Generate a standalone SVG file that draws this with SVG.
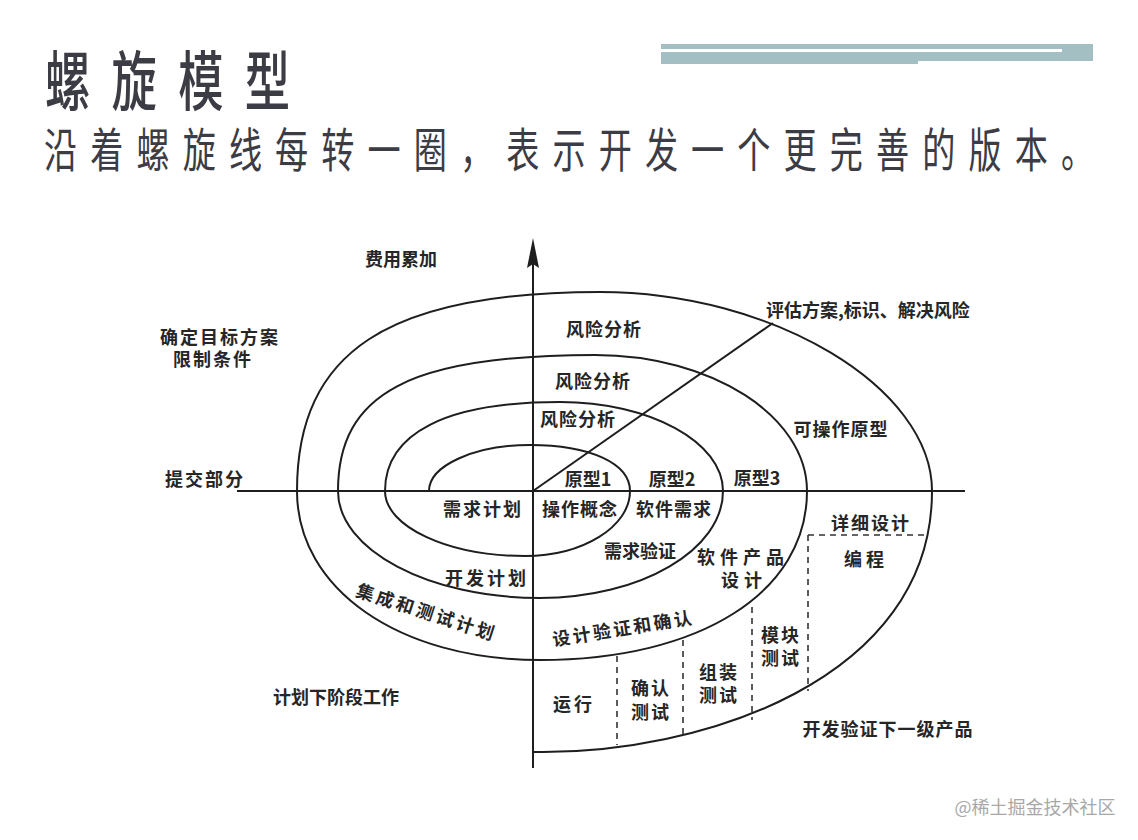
<svg xmlns="http://www.w3.org/2000/svg" width="1138" height="840" viewBox="0 0 1138 840">
<style>
.t{font-family:"Noto Sans CJK SC","Noto Sans",sans-serif;font-weight:700;font-size:18px;fill:#262626;text-anchor:middle;dominant-baseline:central;}
.ln{fill:none;stroke:#1e1e1e;stroke-width:2;}
.ds{fill:none;stroke:#333;stroke-width:1.6;stroke-dasharray:6 5;}
.hd{font-family:"Noto Sans CJK SC","Noto Sans",sans-serif;fill:#3c3c44;dominant-baseline:central;}
</style>
<rect width="1138" height="840" fill="#fff"/>

<g id="header">
<rect x="661" y="44" width="432" height="17" fill="#a3bfc3"/>
<rect x="661" y="60" width="257" height="4" fill="#a3bfc3"/>
<line x1="661" y1="50.5" x2="1062" y2="50.5" stroke="#fff" stroke-width="3"/>
<text class="hd" transform="translate(45,77) scale(0.72,1.02)" font-size="63" font-weight="500" letter-spacing="29.5">螺旋模型</text>
<text class="hd" transform="translate(44,147) scale(0.72,1.02)" font-size="46" font-weight="400" letter-spacing="18.2">沿着螺旋线每转一圈，表示开发一个更完善的版本。</text>
</g>

<g id="connectors">
<line class="ln" x1="237" y1="491" x2="965" y2="491"/>
<line class="ln" x1="533" y1="768" x2="533" y2="262"/>
<path d="M533,238 L539,268 L533,264 L527,268 Z" fill="#1e1e1e"/>
<line class="ln" x1="533" y1="491" x2="773" y2="323"/>
<path id="spiral" class="ln" d="M429,491 C429,465.7 474.5,445 530,445 C590,445 630,463.4 630,491
C630,526.75 582.75,556 525,556 C448,556 385,526.75 385,491
C385,433.15 446.25,402 560,402 C649.65,402 723,442 723,491
C723,549.85 640.65,598 540,598 C428.9,598 338,549.85 338,491
C338,393.1 410,355 595,355 C711.6,355 807,416.2 807,491
C807,592.4 700.2,660 540,660 C399.1,660 297,589 297,491
C297,351.7 387.9,292 600,292 C772.6,292 932,387.5 932,491
C932,680 700,755 533,752"/>
<line class="ds" x1="808" y1="535" x2="926" y2="535"/>
<line class="ds" x1="808" y1="535" x2="808" y2="691"/>
<line class="ds" x1="752" y1="607" x2="752" y2="720"/>
<line class="ds" x1="683" y1="640" x2="683" y2="738"/>
<line class="ds" x1="617" y1="656" x2="617" y2="745"/>
</g>

<g id="axis-label"><text class="t" x="401" y="258" font-size="16">费用累加</text></g>
<g id="risk1"><text class="t" x="604" y="328" letter-spacing="1">风险分析</text></g>
<g id="risk2"><text class="t" x="593" y="380" letter-spacing="1">风险分析</text></g>
<g id="risk3"><text class="t" x="578" y="418" letter-spacing="1">风险分析</text></g>
<g id="evaluate"><text class="t" x="766" y="309" style="text-anchor:start">评估方案,标识、解决风险</text></g>
<g id="objectives"><text class="t" x="220" y="336" font-size="17" letter-spacing="2">确定目标方案</text><text class="t" x="213" y="358" font-size="17" letter-spacing="2">限制条件</text></g>
<g id="op-proto"><text class="t" x="841" y="428" letter-spacing="1">可操作原型</text></g>
<g id="commit"><text class="t" x="205" y="478" letter-spacing="2">提交部分</text></g>
<g id="proto1"><text class="t" x="588" y="478">原型1</text></g>
<g id="proto2"><text class="t" x="672" y="478">原型2</text></g>
<g id="proto3"><text class="t" x="757" y="477">原型3</text></g>
<g id="req-plan"><text class="t" x="483" y="508" letter-spacing="2">需求计划</text></g>
<g id="concept"><text class="t" x="580" y="508" letter-spacing="1">操作概念</text></g>
<g id="sw-req"><text class="t" x="674" y="508" letter-spacing="1">软件需求</text></g>
<g id="detail"><text class="t" x="871" y="522" letter-spacing="2">详细设计</text></g>
<g id="req-valid"><text class="t" x="640" y="550">需求验证</text></g>
<g id="product"><text class="t" x="743" y="556" letter-spacing="5">软件产品</text><text class="t" x="744" y="579" letter-spacing="5">设计</text></g>
<g id="coding"><text class="t" x="866" y="558" letter-spacing="4">编程</text></g>
<g id="dev-plan"><text class="t" x="487" y="577" letter-spacing="3">开发计划</text></g>
<g id="int-plan"><text class="t" transform="translate(427,611) rotate(18)" letter-spacing="3">集成和测试计划</text></g>
<g id="design-vv"><text class="t" transform="translate(623,627) rotate(-9)" letter-spacing="2.5">设计验证和确认</text></g>
<g id="unit-test"><text class="t" x="781" y="634" letter-spacing="2">模块</text><text class="t" x="781" y="657" letter-spacing="2">测试</text></g>
<g id="integ-test"><text class="t" x="719" y="671" letter-spacing="2">组装</text><text class="t" x="719" y="694" letter-spacing="2">测试</text></g>
<g id="accept-test"><text class="t" x="651" y="687" letter-spacing="2">确认</text><text class="t" x="651" y="711" letter-spacing="2">测试</text></g>
<g id="run"><text class="t" x="574" y="703" letter-spacing="3">运行</text></g>
<g id="next-plan"><text class="t" x="336" y="696">计划下阶段工作</text></g>
<g id="next-level"><text class="t" x="888" y="728" letter-spacing="1">开发验证下一级产品</text></g>
<g id="watermark"><text x="1035" y="806" font-family="'Noto Sans CJK SC',sans-serif" font-size="18" fill="#a8a8a8" text-anchor="middle" dominant-baseline="central">@稀土掘金技术社区</text></g>
</svg>
